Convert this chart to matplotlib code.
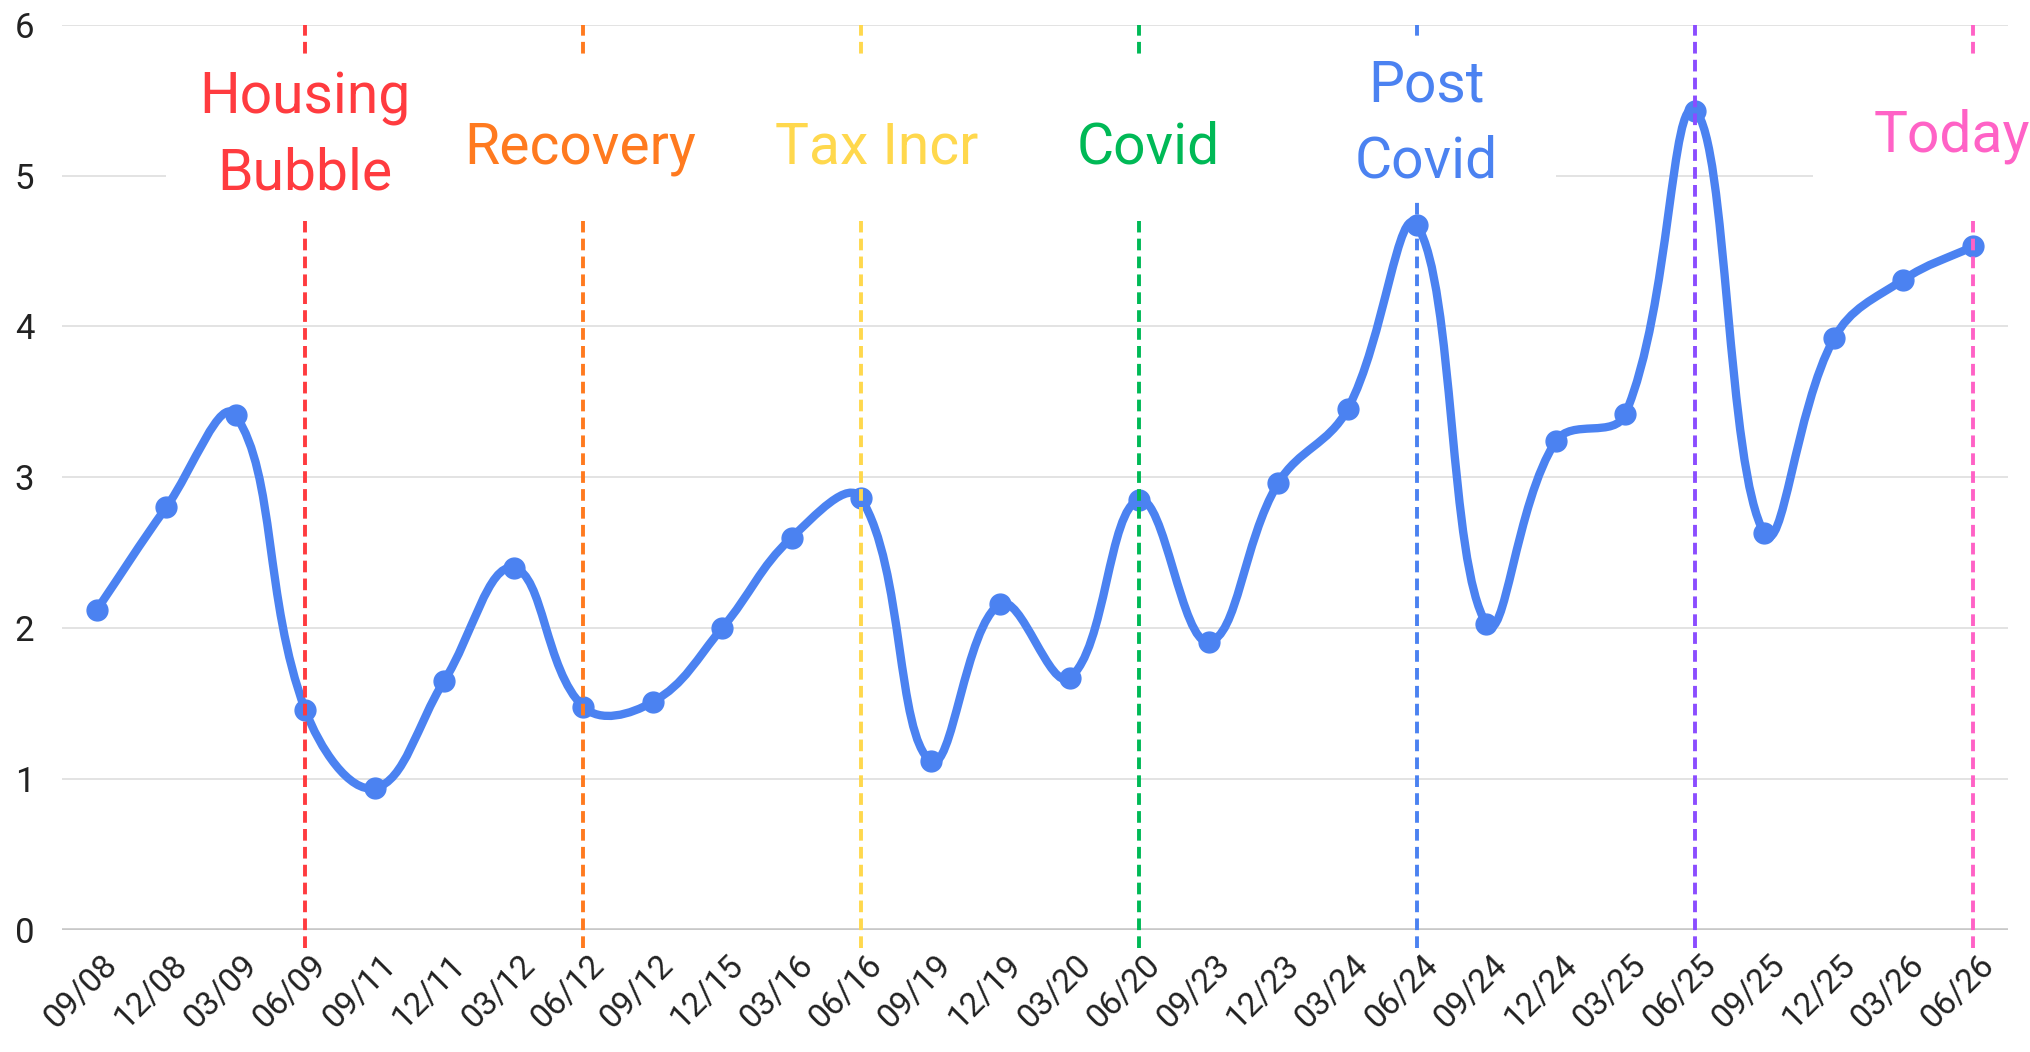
import matplotlib

matplotlib.use("Agg")
import matplotlib.pyplot as plt
import matplotlib.transforms as mtransforms
import numpy as np
from matplotlib.patches import PathPatch, Rectangle
from matplotlib.path import Path

# ---- data -------------------------------------------------------------
periods = [
    "09/08", "12/08", "03/09", "06/09", "09/11", "12/11", "03/12",
    "06/12", "09/12", "12/15", "03/16", "06/16", "09/19", "12/19",
    "03/20", "06/20", "09/23", "12/23", "03/24", "06/24", "09/24",
    "12/24", "03/25", "06/25", "09/25", "12/25", "03/26", "06/26",
]
values = [
    2.12, 2.80, 3.41, 1.46, 0.94, 1.65, 2.40,
    1.48, 1.51, 2.00, 2.60, 2.86, 1.12, 2.16,
    1.67, 2.85, 1.91, 2.96, 3.45, 4.67, 2.03,
    3.24, 3.42, 5.43, 2.63, 3.92, 4.31, 4.53,
]

event_periods = ["06/09", "06/12", "06/16", "06/20", "06/24", "06/25", "06/26"]
event_labels = ["Housing\nBubble", "Recovery", "Tax Incr", "Covid", "Post\nCovid", "", "Today"]
event_colors = ["#FF3B3F", "#FF7A1F", "#FFD84D", "#00B956", "#4B82F1", "#8B4DFF", "#FF62C6"]

LINE_COLOR = "#4B82F1"
FONT = ["Roboto", "DejaVu Sans"]


def spline_path(ax, xs, ys, tension=0.4):
    """Chart.js style spline through the points, computed in pixel space."""
    pts = ax.transData.transform(np.column_stack([xs, ys]))
    n = len(pts)
    cin = np.zeros_like(pts)
    cout = np.zeros_like(pts)
    for i in range(n):
        prev = pts[max(i - 1, 0)]
        cur = pts[i]
        nxt = pts[min(i + 1, n - 1)]
        d01 = np.hypot(*(cur - prev))
        d12 = np.hypot(*(nxt - cur))
        tot = d01 + d12 if d01 + d12 > 0 else 1.0
        fa = tension * d01 / tot
        fb = tension * d12 / tot
        cin[i] = cur - fa * (nxt - prev)
        cout[i] = cur + fb * (nxt - prev)
    verts = [pts[0]]
    codes = [Path.MOVETO]
    for i in range(n - 1):
        verts += [cout[i], cin[i + 1], pts[i + 1]]
        codes += [Path.CURVE4] * 3
    verts = ax.transData.inverted().transform(np.array(verts))
    return Path(verts, codes)


plt.rcParams["font.family"] = FONT

fig = plt.figure(figsize=(20.3, 10.52), dpi=100)
ax = fig.add_axes([0.0305, 0.116, 0.9585, 0.8606])

x = np.arange(len(periods))
ax.set_xlim(-0.5, len(periods) - 0.5)
ax.set_ylim(0, 6)

# grid
ax.set_yticks(range(0, 7))
ax.yaxis.grid(True, color="#E3E3E3", linewidth=1.4, zorder=0)
ax.set_axisbelow(True)
for side in ["top", "right", "left", "bottom"]:
    ax.spines[side].set_visible(False)
ax.axhline(0, color="#C8C8C8", linewidth=2.6, zorder=1)

# series
path = spline_path(ax, x, values)
ax.add_patch(PathPatch(path, fill=False, edgecolor=LINE_COLOR, linewidth=6.0,
                       capstyle="round", joinstyle="round", zorder=2))
ax.plot(x, values, linestyle="none", marker="o", markersize=15,
        color=LINE_COLOR, zorder=3)

# event lines with labels
label_dx = [0.0, -0.04, 0.22, 0.13, 0.13, 0.0, -0.3]
label_y = [5.26, 5.18, 5.18, 5.18, 5.34, 0.0, 5.26]
box_y = [(4.70, 5.80), (4.70, 5.80), (4.70, 5.80), (4.70, 5.80), (4.83, 5.91), None, (4.70, 5.80)]
for per, lab, col, dx, ly, by in zip(event_periods, event_labels, event_colors,
                                     label_dx, label_y, box_y):
    xi = periods.index(per)
    ax.vlines(xi, -0.12, 6, colors=col, linewidth=2.8, linestyles=(0, (3.0, 1.6)),
              zorder=4, clip_on=False)
    if not lab:
        continue
    bx = xi + dx if per == "06/26" else xi
    ax.add_patch(Rectangle((bx - 2.0, by[0]), 4.0, by[1] - by[0],
                           facecolor="white", edgecolor="none", zorder=5, clip_on=False))
    ax.text(xi + dx, ly, lab, color=col, fontsize=41, ha="center", va="center",
            linespacing=1.48, zorder=6, clip_on=False)

# ticks
ax.set_xticks(x)
ax.set_xticklabels(periods, rotation=45, ha="right", va="center",
                   rotation_mode="anchor", fontsize=24, color="#222222")
ax.tick_params(axis="x", length=0, pad=22)
ax.tick_params(axis="y", length=0, pad=20, labelsize=25, labelcolor="#222222")

# nudge the rotated labels to the right so they end just past their tick
shift = mtransforms.ScaledTranslation(0.16, 0, fig.dpi_scale_trans)
for lbl in ax.get_xticklabels():
    lbl.set_transform(lbl.get_transform() + shift)

fig.savefig("out.png", dpi=100, facecolor="white")
